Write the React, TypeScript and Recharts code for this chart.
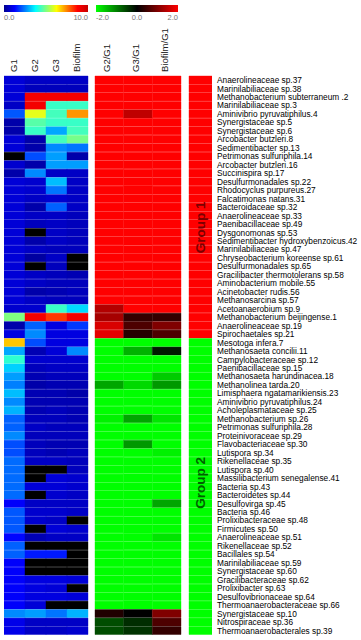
import React from "react";
import { BarChart, Bar, XAxis, YAxis, Cell } from "recharts";

const group1Taxa = [
  "Anaerolineaceae sp.37",
  "Marinilabiliaceae sp.38",
  "Methanobacterium subterraneum .2",
  "Marinilabiliaceae sp.3",
  "Aminivibrio pyruvatiphilus.4",
  "Synergistaceae sp.5",
  "Synergistaceae sp.6",
  "Arcobacter butzleri.8",
  "Sedimentibacter sp.13",
  "Petrimonas sulfuriphila.14",
  "Arcobacter butzleri.16",
  "Succinispira sp.17",
  "Desulfurmonadales sp.22",
  "Rhodocyclus purpureus.27",
  "Falcatimonas natans.31",
  "Bacteroidaceae sp.32",
  "Anaerolineaceae sp.33",
  "Paenibacillaceae sp.49",
  "Dysgonomonas sp.53",
  "Sedimentibacter hydroxybenzoicus.42",
  "Marinilabiliaceae sp.47",
  "Chryseobacterium koreense sp.61",
  "Desulfurmonadales sp.65",
  "Gracilibacter thermotolerans sp.58",
  "Aminobacterium mobile.55",
  "Acinetobacter rudis.56",
  "Methanosarcina sp.57",
  "Acetoanaerobium sp.9",
  "Methanobacterium beijingense.1",
  "Anaerolineaceae sp.19",
  "Spirochaetales sp.21",
];

const group2Taxa = [
  "Mesotoga infera.7",
  "Methanosaeta concilii.11",
  "Campylobacteraceae sp.12",
  "Paenibacillaceae sp.15",
  "Methanosaeta harundinacea.18",
  "Methanolinea tarda.20",
  "Limisphaera ngatamarikiensis.23",
  "Aminivibrio pyruvatiphilus.24",
  "Acholeplasmataceae sp.25",
  "Methanobacterium sp.26",
  "Petrimonas sulfuriphila.28",
  "Proteinivoraceae sp.29",
  "Flavobacteriaceae sp.30",
  "Lutispora sp.34",
  "Rikenellaceae sp.35",
  "Lutispora sp.40",
  "Massilibacterium senegalense.41",
  "Bacteria sp.43",
  "Bacteroidetes sp.44",
  "Desulfovirga sp.45",
  "Bacteria sp.46",
  "Prolixibacteraceae sp.48",
  "Firmicutes sp.50",
  "Anaerolineaceae sp.51",
  "Rikenellaceae sp.52",
  "Bacillales sp.54",
  "Marinilabiliaceae sp.59",
  "Synergistaceae sp.60",
  "Gracilibacteraceae sp.62",
  "Prolixibacter sp.63",
  "Desulfovibrionaceae sp.64",
  "Thermoanaerobacteraceae sp.66",
  "Synergistaceae sp.10",
  "Nitrospiraceae sp.36",
  "Thermoanaerobacterales sp.39",
];

// abundance (0-10), null = not detected (drawn black)
const g1 = [
  0.8, 0.8, 0.8, 0.6, 2.1, 0.3, 0.3, 0.8, 0.8, null, 0.7, 0.3, 0.8, 0.8, 0.8, 0.8,
  0.8, 0.8, 0.8, 0.8, 0.8, 0.8, 0.8, 0.8, 0.8, 0.8, 0.8, 0.7, 5.0, 0.3, 0.9,
  6.8, 2.9, 4.2, 3.3, 2.8, 2.5, 3.1, 2.6, 3.0, 2.2, 2.2, 2.6, 2.0, 2.0, 2.3, 2.3,
  2.3, 2.3, 2.3, 1.2, 2.1, 2.1, 2.1, 1.3, 2.2, 2.2, 1.2, 1.2, 1.2, 1.2, 1.2, 1.2,
  2.6, 1.0, 1.0,
];
const g2 = [
  0.6, 0.5, 9.0, 9.0, 6.0, 4.6, 4.3, 0.3, 0.3, 2.0, 0.3, 2.6, 0.7, 0.7, 0.6, 0.3,
  0.6, 0.5, null, 0.3, 0.6, 0.2, null, 0.6, 0.6, 0.3, 0.6, 0.7, 9.0, 2.2, 2.6,
  2.0, 0.4, 0.7, 0.5, 0.4, 0.3, 0.4, 0.4, 0.4, 0.5, 0.6, 0.5, 0.5, 0.5, 0.6, null,
  null, 0.8, null, 0.6, 0.7, 0.7, null, 0.4, null, 1.5, null, null, 0.9, 0.9, 0.9, 0.8,
  2.8, 0.6, 0.6,
];
const g3 = [
  0.6, 0.5, 9.0, 4.3, 4.4, 4.3, 2.9, 4.4, 2.6, 2.8, 2.8, 0.6, 3.1, 2.4, 0.7, 2.2,
  0.6, 0.6, 0.6, 0.6, 0.5, 0.6, 0.5, 0.5, 0.5, 0.4, 0.5, 4.3, 8.2, 0.9, 0.9,
  0.9, 0.8, 0.7, 0.6, 0.5, 0.4, 0.4, 0.4, 0.5, 0.5, 0.5, 0.5, 0.4, 0.4, 0.6, null,
  0.8, 0.8, 0.7, 0.6, 0.7, 0.6, 0.8, 0.6, null, 1.5, null, null, 0.9, 0.8, 0.9, null,
  2.4, 0.6, 0.6,
];
const biofilm = [
  0.6, 0.5, 9.0, 4.3, 7.3, 4.3, 4.4, 4.9, 2.4, 0.3, 2.8, 0.6, 0.6, 0.6, 0.6, 0.6,
  0.5, 0.5, 0.5, 0.5, 0.5, null, null, 0.4, 0.5, 0.5, 0.5, 3.4, 9.0, 1.8, 0.9,
  0.9, 2.6, 0.7, 0.6, 0.5, 0.4, 0.3, 0.4, 0.4, 0.4, 0.5, 0.5, 0.4, 0.5, 0.5, 0.5,
  0.7, 0.7, 0.6, 0.6, 0.6, null, 0.7, 0.6, null, null, null, null, 0.8, null, 0.8, null,
  3.0, 0.6, 0.7,
];

// log ratios (-2..2)
const ratioG2 = [
  2.5, 2.5, 2.5, 2.5, 2.5, 2.5, 2.5, 2.5, 2.5, 2.5, 2.5, 2.5, 2.5, 2.5, 2.5, 2.5,
  2.5, 2.5, 2.5, 2.5, 2.5, 2.5, 2.5, 2.5, 2.5, 2.5, 2.5, 1.4, 1.3, 1.7, 1.8,
  -2.5, -2.5, -2.5, -2.5, -2.5, -1.3, -2.5, -2.5, -2.5, -1.9, -2.5, -2.5, -2.5, -2.5, -2.5, -2.5,
  -2.5, -2.5, -2.5, -2.5, -2.5, -2.5, -2.5, -2.5, -2.5, -2.5, -2.5, -2.5, -2.5, -2.5, -2.5, -2.5,
  0.25, -0.6, -0.6,
];
const ratioG3 = [
  2.5, 2.5, 2.5, 2.5, 1.5, 2.5, 2.5, 2.5, 2.5, 2.5, 2.5, 2.5, 2.5, 2.5, 2.5, 2.5,
  2.5, 2.5, 2.5, 2.5, 2.5, 2.5, 2.5, 2.5, 2.5, 2.5, 2.5, 2.5, 0.4, 0.6, 0.3,
  -2.5, -1.4, -2.5, -2.5, -2.5, -1.7, -2.5, -2.5, -2.5, -1.3, -2.5, -2.5, -1.2, -2.5, -2.5, -2.5,
  -2.5, -2.5, -2.5, -2.5, -2.5, -2.5, -2.5, -2.5, -2.5, -2.5, -2.5, -2.5, -2.5, -2.5, -2.5, -2.5,
  0.0, -0.35, -0.4,
];
const ratioBio = [
  2.5, 2.5, 2.5, 2.5, 2.5, 2.5, 2.5, 2.5, 2.5, 2.5, 2.5, 2.5, 2.5, 2.5, 2.5, 2.5,
  2.5, 2.5, 2.5, 2.5, 2.5, 2.5, 2.5, 2.5, 2.5, 2.5, 2.5, 2.5, 0.4, 1.0, 0.6,
  -2.5, -0.2, -2.5, -2.5, -1.6, -1.2, -2.5, -2.5, -2.5, -1.8, -2.5, -2.5, -2.5, -1.9, -2.5, -2.5,
  -2.5, -2.5, -2.5, -1.3, -2.5, -2.5, -2.5, -1.8, -2.5, -2.5, -2.5, -2.5, -2.5, -2.5, -2.5, -2.5,
  1.0, 0.6, 0.4,
];

const abundanceHeaders = ["G1", "G2", "G3", "Biofilm"];
const ratioHeaders = ["G2/G1", "G3/G1", "Biofilm/G1"];

// layout (px along the x axis)
const LEFT_W = 21;
const GAP_A = 7;
const RIGHT_W = 28.67;
const GAP_B = 8;
const GROUP_W = 23;
const TOTAL_W = LEFT_W * 4 + GAP_A + RIGHT_W * 3 + GAP_B + GROUP_W;
const PLOT_LEFT = 4;
const PLOT_TOP = 76;

const JET = [
  [0, [0, 0, 143]],
  [0.125, [0, 0, 255]],
  [0.375, [0, 255, 255]],
  [0.5, [128, 255, 128]],
  [0.625, [255, 255, 0]],
  [0.875, [255, 0, 0]],
  [1, [200, 0, 0]],
] as [number, number[]][];

function jet(v: number | null) {
  if (v === null) return "#000000";
  const t = Math.max(0, Math.min(1, v / 10));
  for (let i = 1; i < JET.length; i++) {
    const [t1, c1] = JET[i];
    const [t0, c0] = JET[i - 1];
    if (t <= t1) {
      const f = (t - t0) / (t1 - t0);
      const c = c0.map((x, k) => Math.round(x + (c1[k] - x) * f));
      return `rgb(${c[0]},${c[1]},${c[2]})`;
    }
  }
  return "rgb(200,0,0)";
}

function redGreen(v: number) {
  const t = Math.max(-1, Math.min(1, v / 2));
  return t >= 0
    ? `rgb(${Math.round(255 * t)},0,0)`
    : `rgb(0,${Math.round(-255 * t)},0)`;
}

const taxa = [...group1Taxa, ...group2Taxa];
const rows = taxa.map((name, i) => ({
  name,
  g1: LEFT_W,
  g2: LEFT_W,
  g3: LEFT_W,
  bio: LEFT_W,
  gapA: GAP_A,
  r2: RIGHT_W,
  r3: RIGHT_W,
  rb: RIGHT_W,
  gapB: GAP_B,
  grp: GROUP_W,
  group: i < group1Taxa.length ? 1 : 2,
}));

const series = [
  { key: "g1", color: (i: number) => jet(g1[i]) },
  { key: "g2", color: (i: number) => jet(g2[i]) },
  { key: "g3", color: (i: number) => jet(g3[i]) },
  { key: "bio", color: (i: number) => jet(biofilm[i]) },
  { key: "gapA", color: () => "none" },
  { key: "r2", color: (i: number) => redGreen(ratioG2[i]) },
  { key: "r3", color: (i: number) => redGreen(ratioG3[i]) },
  { key: "rb", color: (i: number) => redGreen(ratioBio[i]) },
  { key: "gapB", color: () => "none" },
  { key: "grp", color: (i: number) => (rows[i].group === 1 ? "#ff0000" : "#00ff00") },
];

function TaxonTick(props: any) {
  const { x, y, payload } = props;
  return (
    <text x={x} y={y} dy="0.34em" fontSize={8.3} fill="#000" textAnchor="start">
      {payload.value}
    </text>
  );
}

export default function App() {
  const leftCenters = abundanceHeaders.map((_, i) => PLOT_LEFT + LEFT_W * (i + 0.5));
  const rightStart = PLOT_LEFT + LEFT_W * 4 + GAP_A;
  const rightCenters = ratioHeaders.map((_, i) => rightStart + RIGHT_W * (i + 0.5));
  const groupX = rightStart + RIGHT_W * 3 + GAP_B + GROUP_W / 2;
  const rowH = (635 - PLOT_TOP) / taxa.length;
  const mid1 = PLOT_TOP + rowH * group1Taxa.length / 2 + 20;
  const mid2 = PLOT_TOP + rowH * (group1Taxa.length + group2Taxa.length / 2) - 4;

  return (
    <div
      style={{
        position: "absolute",
        left: 0,
        top: 0,
        width: 361,
        height: 640,
        background: "#fff",
        fontFamily: "'Liberation Sans', Arial, sans-serif",
      }}
    >
      <BarChart
        width={361}
        height={640}
        layout="vertical"
        data={rows}
        margin={{ top: PLOT_TOP, right: 0, bottom: 5, left: PLOT_LEFT }}
        barCategoryGap={0}
      >
        <XAxis type="number" domain={[0, TOTAL_W]} allowDataOverflow hide />
        <YAxis
          type="category"
          dataKey="name"
          orientation="right"
          width={149}
          axisLine={false}
          tickLine={false}
          tickSize={0}
          tickMargin={5}
          interval={0}
          tick={<TaxonTick />}
        />
        {series.map((s) => (
          <Bar key={s.key} dataKey={s.key} stackId="h" isAnimationActive={false}>
            {rows.map((r, i) => {
              const c = s.color(i);
              return (
                <Cell
                  key={r.name + i}
                  fill={c}
                  stroke={c === "none" ? "none" : c}
                  strokeWidth={0.4}
                />
              );
            })}
          </Bar>
        ))}
      </BarChart>

      <svg
        width={361}
        height={640}
        style={{ position: "absolute", left: 0, top: 0, pointerEvents: "none" }}
      >
        <defs>
          <linearGradient id="jetBar" x1="0" x2="1" y1="0" y2="0">
            {JET.map(([t, c]) => (
              <stop key={t} offset={t} stopColor={`rgb(${c[0]},${c[1]},${c[2]})`} />
            ))}
          </linearGradient>
          <linearGradient id="rgBar" x1="0" x2="1" y1="0" y2="0">
            <stop offset={0} stopColor="#00ff00" />
            <stop offset={0.5} stopColor="#000000" />
            <stop offset={1} stopColor="#ff0000" />
          </linearGradient>
        </defs>
        <rect x={4} y={5} width={84} height={7} fill="url(#jetBar)" />
        <rect x={96} y={5} width={82} height={7} fill="url(#rgBar)" />
        <g fontSize={7.5} fill="#777">
          <text x={4} y={20}>0.0</text>
          <text x={88} y={20} textAnchor="end">10.0</text>
          <text x={96} y={20}>-2.0</text>
          <text x={137} y={20} textAnchor="middle">0.0</text>
          <text x={178} y={20} textAnchor="end">2.0</text>
        </g>
        <g fontSize={9.5} fill="#222">
          {abundanceHeaders.map((h, i) => (
            <text
              key={h}
              x={leftCenters[i] + 2.5}
              y={72}
              transform={`rotate(-90 ${leftCenters[i] + 2.5} 72)`}
            >
              {h}
            </text>
          ))}
          {ratioHeaders.map((h, i) => (
            <text
              key={h}
              x={rightCenters[i] + 1}
              y={72}
              transform={`rotate(-90 ${rightCenters[i] + 1} 72)`}
            >
              {h}
            </text>
          ))}
        </g>
        <g fontSize={13.5} fontWeight="bold" textAnchor="middle">
          <text
            x={groupX + 5}
            y={mid1}
            fill="#7a0000"
            transform={`rotate(-90 ${groupX + 5} ${mid1})`}
          >
            Group 1
          </text>
          <text
            x={groupX + 5}
            y={mid2}
            fill="#006000"
            transform={`rotate(-90 ${groupX + 5} ${mid2})`}
          >
            Group 2
          </text>
        </g>
      </svg>
    </div>
  );
}
